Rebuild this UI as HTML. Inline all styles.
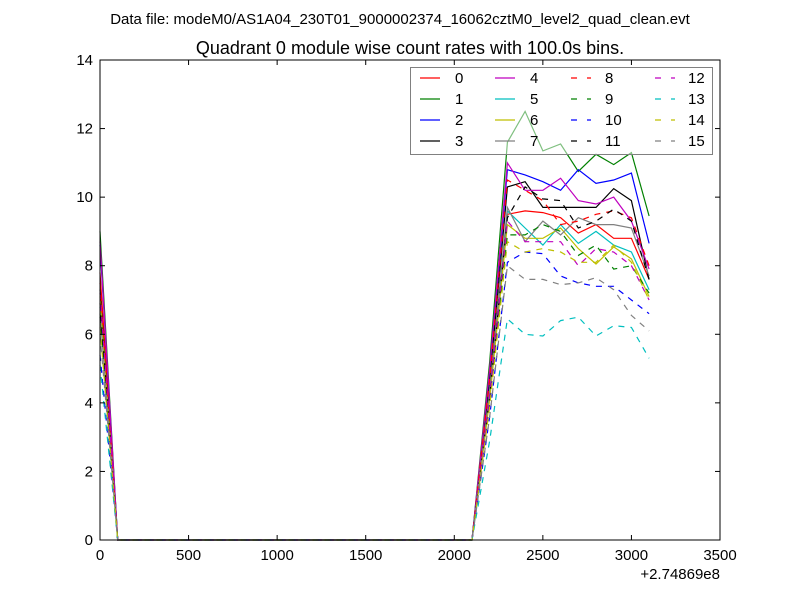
<!DOCTYPE html>
<html><head><meta charset="utf-8"><style>body{margin:0;background:#fff}svg{display:block;font-family:"Liberation Sans","DejaVu Sans",sans-serif}</style></head>
<body>
<svg id="chart" width="800" height="600" viewBox="0 0 800 600">
<rect width="800" height="600" fill="#fff"/>
<text x="400" y="24" text-anchor="middle" font-size="15">Data file: modeM0/AS1A04_230T01_9000002374_16062cztM0_level2_quad_clean.evt</text>
<text x="410" y="54" text-anchor="middle" font-size="18">Quadrant 0 module wise count rates with 100.0s bins.</text>
<g id="series"></g>
<g id="axes"></g>
<g id="legend"></g>
</svg>
<script>
const times=[0,100,200,300,400,500,600,700,800,900,1000,1100,1200,1300,1400,1500,1600,1700,1800,1900,2000,2100,2200,2300,2400,2500,2600,2700,2800,2900,3000,3100];
const startRates=[7.8,9.0,8.6,7.3,8.7,6.8,7.1,6.6,7.5,6.5,5.4,6.9,7.2,5.1,6.2,6.0];
const riseRates=[4.3,5.2,4.9,4.6,5.0,4.3,4.1,4.4,4.7,4.0,3.6,4.2,4.2,2.9,3.9,3.6];
const lateRates=[
[9.5,9.6,9.55,9.4,8.95,9.2,8.8,8.8,7.6],
[11.6,12.5,11.35,11.55,10.75,11.25,10.95,11.3,9.45],
[10.8,10.65,10.45,10.2,10.8,10.4,10.5,10.7,8.65],
[10.3,10.45,9.7,9.7,9.7,9.7,10.25,9.9,7.6],
[11.0,10.2,10.2,10.55,9.9,9.8,10.0,9.3,7.9],
[9.6,9.1,8.6,9.2,8.65,9.0,8.6,8.4,7.3],
[9.2,8.8,8.8,9.1,8.5,8.05,8.55,8.2,7.1],
[9.7,8.7,9.3,8.9,9.4,9.2,9.2,9.1,7.7],
[10.5,10.2,9.9,9.2,9.3,9.5,9.6,9.4,8.0],
[8.9,8.9,9.2,9.0,8.3,8.6,7.9,8.0,7.2],
[8.1,8.4,8.35,7.7,7.5,7.4,7.4,7.0,6.6],
[9.4,10.3,9.95,9.9,9.1,9.3,9.65,9.3,7.6],
[9.3,8.7,8.7,8.7,8.0,8.5,8.4,8.0,7.0],
[6.45,6.0,5.95,6.4,6.5,5.95,6.25,6.2,5.3],
[8.7,8.4,8.5,8.4,8.1,8.1,8.6,8.1,7.0],
[8.0,7.6,7.6,7.45,7.5,7.65,7.3,6.55,6.1]];
const seriesNames=["0","1","2","3","4","5","6","7","8","9","10","11","12","13","14","15"];
const xTicks=[0,500,1000,1500,2000,2500,3000,3500];
const yTicks=[0,2,4,6,8,10,12,14];
const colors=["#ff0000","#008000","#0000ff","#000000","#bf00bf","#00bfbf","#bfbf00","#808080"];
const X0=100,X1=720,Y0=540,Y1=60,XMAX=3500,YMAX=14;
const sx=v=>X0+(X1-X0)*v/XMAX, sy=v=>Y0-(Y0-Y1)*v/YMAX;
const NS="http://www.w3.org/2000/svg";
function mk(t,a,p){const e=document.createElementNS(NS,t);for(const k in a)e.setAttribute(k,a[k]);p.appendChild(e);return e;}
const gS=document.getElementById('series'),gA=document.getElementById('axes'),gL=document.getElementById('legend');
function seriesVals(i){const v=[startRates[i]];for(let k=1;k<=21;k++)v.push(0);v.push(riseRates[i]);return v.concat(lateRates[i]);}
for(let i=0;i<16;i++){
 const v=seriesVals(i);
 const d=times.map((t,k)=>(k?'L':'M')+sx(t).toFixed(1)+','+sy(v[k]).toFixed(1)).join('');
 const p=mk('path',{d:d,fill:'none',stroke:colors[i%8],'stroke-width':1.2},gS);
 if(i>=8)p.setAttribute('stroke-dasharray','6,6');
 
 
}
const frame=mk('rect',{x:X0,y:Y1,width:X1-X0,height:Y0-Y1,fill:'none',stroke:'#000','stroke-width':1},gA);


xTicks.forEach(t=>{const x=sx(t);
 mk('line',{x1:x,x2:x,y1:Y0,y2:Y0-5,stroke:'#000'},gA);mk('line',{x1:x,x2:x,y1:Y1,y2:Y1+5,stroke:'#000'},gA);
 const tx=mk('text',{x:x,y:Y0+20,'text-anchor':'middle','font-size':15},gA);tx.textContent=t;
 
 });
yTicks.forEach(t=>{const y=sy(t);
 mk('line',{x1:X0,x2:X0+5,y1:y,y2:y,stroke:'#000'},gA);mk('line',{x1:X1,x2:X1-5,y1:y,y2:y,stroke:'#000'},gA);
 const tx=mk('text',{x:X0-7,y:y+5,'text-anchor':'end','font-size':15},gA);tx.textContent=t;
 
 });
const off=mk('text',{x:720,y:579,'text-anchor':'end','font-size':15},gA);off.textContent='+2.74869e8';


const lb=mk('rect',{x:410.5,y:67.5,width:302,height:87,fill:'#fff','fill-opacity':0.5,stroke:'#808080','stroke-width':1},gL);


const colX=[420,495,571,655],txtX=[455,530,605,688];
for(let i=0;i<16;i++){const c=Math.floor(i/4),r=i%4,y=78+r*21;
 const g=mk('g',{},gL);
 
 
 const l=mk('line',{x1:colX[c],x2:colX[c]+20,y1:y,y2:y,stroke:colors[i%8],'stroke-width':1.2},g);
 if(i>=8)l.setAttribute('stroke-dasharray','6,10');
 const t=mk('text',{x:txtX[c],y:y+5,'font-size':15},g);t.textContent=seriesNames[i];}
</script>
</body></html>
